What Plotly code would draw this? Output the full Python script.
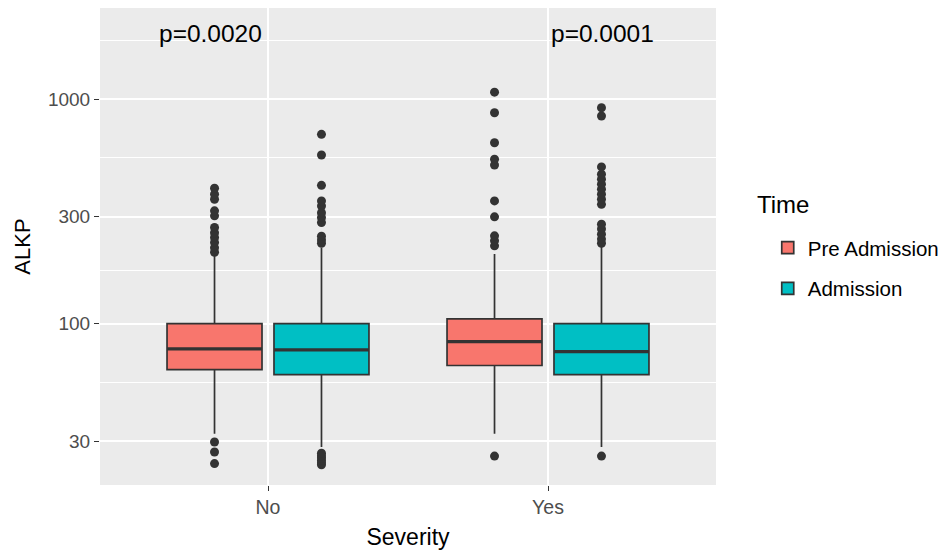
import plotly.graph_objects as go

severity = ["No", "Yes"]
time_groups = ["Pre Admission", "Admission"]

# Pre Admission box statistics (No, Yes)
pre_q1 = [62.4, 65.1]
pre_median = [77.2, 83.2]
pre_q3 = [100.0, 104.9]
pre_lowerfence = [32.3, 32.3]
pre_upperfence = [200.0, 204.0]
pre_out_no = [401, 377, 358, 318, 302, 268, 254, 242, 230, 218, 208, 29.7, 26.8, 23.8]
pre_out_yes = [1074, 869, 639, 540, 509, 352, 299, 246, 234, 222, 25.7]

# Admission box statistics (No, Yes)
adm_q1 = [59.3, 59.3]
adm_median = [76.4, 75.1]
adm_q3 = [100.0, 100.0]
adm_lowerfence = [28.2, 28.2]
adm_upperfence = [218.0, 222.0]
adm_out_no = [697, 564, 413, 352, 334, 312, 297, 282, 245, 236, 228,
              26.5, 25.8, 25.2, 24.6, 24.0, 23.5]
adm_out_yes = [915, 841, 499, 463, 440, 418, 397, 377, 358, 340, 277, 264, 250, 238, 228, 25.7]

p_labels = ["p=0.0020", "p=0.0001"]

y_ticks = [30, 100, 300, 1000]
y_minor = [54.77, 173.2, 547.7, 1825]

fills = ["#F8766D", "#00BFC4"]
edge = "#333333"

fig = go.Figure()
stats = [
    (pre_q1, pre_median, pre_q3, pre_lowerfence, pre_upperfence, [pre_out_no, pre_out_yes]),
    (adm_q1, adm_median, adm_q3, adm_lowerfence, adm_upperfence, [adm_out_no, adm_out_yes]),
]
for i, (name, st) in enumerate(zip(time_groups, stats)):
    q1, med, q3, lf, uf, pts = st
    fig.add_trace(go.Box(
        name=name, x=severity, q1=q1, median=med, q3=q3,
        lowerfence=lf, upperfence=uf, y=pts,
        boxpoints="outliers", jitter=0, pointpos=0,
        marker=dict(color=edge, size=9, line=dict(width=0)),
        fillcolor=fills[i], line=dict(color=edge, width=1.7),
        whiskerwidth=0, legendgroup=name, hoverinfo="skip",
        offsetgroup=name, alignmentgroup="a",
    ))
    # thicker median line (ggplot fatten)
    fig.add_trace(go.Box(
        name=name, x=severity, q1=med, median=med, q3=med,
        lowerfence=med, upperfence=med,
        boxpoints=False, fillcolor="rgba(0,0,0,0)",
        line=dict(color=edge, width=3.2), whiskerwidth=0,
        showlegend=False, legendgroup=name, hoverinfo="skip",
        offsetgroup=name, alignmentgroup="a",
    ))

for xp, lab in zip([0.1786, 0.815], p_labels):
    fig.add_annotation(x=xp, y=0.9456, xref="paper", yref="paper", text=lab,
                       xanchor="center", yanchor="middle",
                       showarrow=False, font=dict(size=24.5, color="#000000"))

fig.add_annotation(x=1.063, y=0.588, xref="paper", yref="paper", text="Time",
                   xanchor="left", yanchor="middle", showarrow=False,
                   font=dict(size=24, color="#000000"))

fig.update_layout(
    width=952, height=556,
    margin=dict(l=92, r=244, t=0, b=79, pad=0),
    paper_bgcolor="white", plot_bgcolor="#EBEBEB",
    font=dict(family="Liberation Sans, Arial, sans-serif", color="#000000"),
    boxmode="group", boxgap=0.236, boxgroupgap=0.112,
    legend=dict(
        font=dict(size=20.5), x=1.084, xanchor="left", y=0.539, yanchor="top",
        traceorder="grouped", tracegroupgap=11, bgcolor="rgba(0,0,0,0)",
    ),
    xaxis=dict(
        type="category", range=[-0.6, 1.6],
        showgrid=True, gridcolor="white", gridwidth=1.6, zeroline=False,
        ticks="outside", ticklen=5, tickcolor=edge, tickwidth=1,
        tickfont=dict(size=19.5, color="#4D4D4D"),
        title=dict(text="Severity", font=dict(size=23), standoff=11),
    ),
    yaxis=dict(
        type="log", range=[1.2813, 3.4058],
        tickvals=y_ticks, ticktext=[str(v) for v in y_ticks],
        showgrid=True, gridcolor="white", gridwidth=1.6, zeroline=False,
        ticks="outside", ticklen=5, tickcolor=edge, tickwidth=1,
        tickfont=dict(size=19, color="#4D4D4D"),
        minor=dict(tickvals=y_minor, showgrid=True, gridcolor="white", gridwidth=0.8, ticks=""),
        title=dict(text="ALKP", font=dict(size=22), standoff=11),
    ),
)

fig.write_html("out.html")
